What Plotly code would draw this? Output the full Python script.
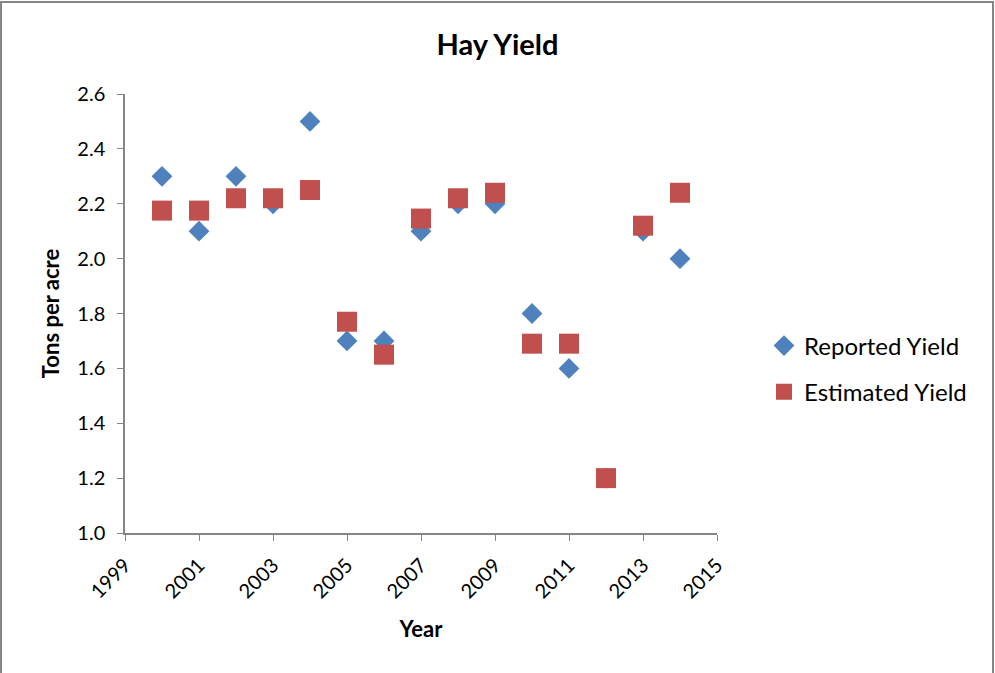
import plotly.graph_objects as go

years = [2000, 2001, 2002, 2003, 2004, 2005, 2006, 2007, 2008, 2009, 2010, 2011, 2012, 2013, 2014]
reported_yield = [2.3, 2.1, 2.3, 2.2, 2.5, 1.7, 1.7, 2.1, 2.2, 2.2, 1.8, 1.6, 1.2, 2.1, 2.0]
estimated_yield = [2.175, 2.175, 2.22, 2.22, 2.25, 1.77, 1.65, 2.146, 2.22, 2.24, 1.69, 1.69, 1.20, 2.12, 2.24]
x_ticks = [1999, 2001, 2003, 2005, 2007, 2009, 2011, 2013, 2015]
y_ticks = [1.0, 1.2, 1.4, 1.6, 1.8, 2.0, 2.2, 2.4, 2.6]

FONT = "Lato, 'Open Sans', sans-serif"

fig = go.Figure()
fig.add_trace(go.Scatter(
    x=years, y=reported_yield, mode="markers", name="Reported Yield",
    legendgroup="a",
    marker=dict(symbol="diamond", size=16, color="#4F81BD", line=dict(width=0)),
))
fig.add_trace(go.Scatter(
    x=years, y=estimated_yield, mode="markers", name="Estimated Yield",
    legendgroup="b",
    marker=dict(symbol="square", size=20, color="#C0504D", line=dict(width=0)),
))

axis_common = dict(
    showline=True, linecolor="#868686", linewidth=1.5,
    ticks="outside", tickcolor="#868686", ticklen=6,
    showgrid=False, zeroline=False,
    tickfont=dict(family=FONT, size=20, color="#000000"),
)

L, R, T, B = 125, 717, 94, 533
W, H = 995, 673
pw, ph = R - L, B - T

fig.update_layout(
    width=W, height=H,
    margin=dict(l=L, r=W - R, t=T, b=H - B),
    paper_bgcolor="white", plot_bgcolor="white",
    title=dict(text="<b>Hay Yield</b>", x=0.5, xanchor="center", y=1 - 45 / H, yanchor="middle",
               font=dict(family=FONT, size=29, color="#000000")),
    xaxis=dict(range=[1999, 2015], tickvals=x_ticks, ticktext=[str(v) for v in x_ticks],
               tickangle=-45, ticklabelstandoff=5,
               title=dict(text="<b>Year</b>", font=dict(family=FONT, size=22, color="#000000"), standoff=20),
               **axis_common),
    yaxis=dict(range=[1.0, 2.6], tickvals=y_ticks, ticktext=[f"{v:.1f}" for v in y_ticks],
               ticklabelstandoff=8,
               title=dict(text="<b>Tons per acre</b>", font=dict(family=FONT, size=22, color="#000000"), standoff=12),
               **axis_common),
    legend=dict(x=(764 - L) / pw, y=(B - 369) / ph, xanchor="left", yanchor="middle",
                font=dict(family=FONT, size=24, color="#000000"),
                traceorder="grouped", tracegroupgap=12, bgcolor="rgba(0,0,0,0)"),
    showlegend=True,
    shapes=[dict(type="rect", xref="paper", yref="paper",
                 x0=(1 - L) / pw, x1=(993 - L) / pw, y0=(B - 675) / ph, y1=(B - 2) / ph,
                 line=dict(color="#868686", width=2), fillcolor="rgba(0,0,0,0)", layer="below")],
)

fig.write_html("out.html", config={"displayModeBar": False},
               post_script="document.body.style.margin='0';document.body.style.overflow='hidden';")
